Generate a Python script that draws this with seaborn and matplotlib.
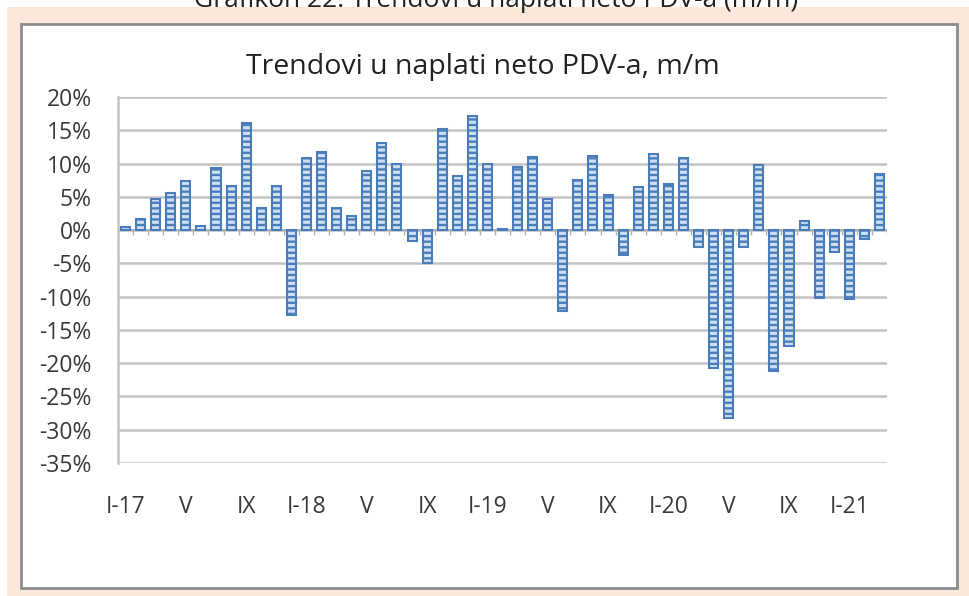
import numpy as np
import pandas as pd
import seaborn as sns
import matplotlib.pyplot as plt
from matplotlib.patches import Rectangle

# monthly net VAT collection trend, m/m change in %
years = ["17", "18", "19", "20", "21"]
roman = ["I", "II", "III", "IV", "V", "VI", "VII", "VIII", "IX", "X", "XI", "XII"]
values = [
    0.4, 1.6, 4.6, 5.5, 7.4, 0.6, 9.3, 6.6, 16.1, 3.3, 6.6, -12.8,   # 2017
    10.9, 11.7, 3.3, 2.1, 8.9, 13.1, 10.0, -1.7, -4.9, 15.2, 8.1, 17.1,  # 2018
    9.9, 0.1, 9.5, 11.0, 4.6, -12.1, 7.6, 11.2, 5.3, -3.8, 6.5, 11.5,  # 2019
    7.0, 10.8, -2.5, -20.7, -28.2, -2.5, 9.8, -21.1, -17.4, 1.3, -10.2, -3.3,  # 2020
    -10.4, -1.3, 8.5,  # 2021
]
yticks = [20, 15, 10, 5, 0, -5, -10, -15, -20, -25, -30, -35]

periods = [f"{m}-{y}" for y in years for m in roman][:len(values)]
# every fourth month gets a label, January carries the year
xlabels = [p if p.startswith("I-") else p.split("-")[0] for p in periods]

df = pd.DataFrame({"period": periods, "value": np.array(values) / 100})

sns.set_style("white")
plt.rcParams["font.family"] = ["Open Sans", "DejaVu Sans"]
plt.rcParams["hatch.linewidth"] = 1.7

W, H = 969, 596
fig = plt.figure(figsize=(W / 100, H / 100), dpi=100, facecolor="white")

# peach frame and white chart box, kept behind the axes
fig.patches.append(Rectangle((7 / W, 0), 1, (H - 7) / H, transform=fig.transFigure,
                             facecolor="#fce8da", edgecolor="none", zorder=-3))
fig.patches.append(Rectangle((21 / W, (H - 588) / H), (957 - 21) / W, (588 - 24) / H,
                             transform=fig.transFigure, facecolor="white",
                             edgecolor="#8c8c8c", linewidth=2, zorder=-2))

fig.text(496 / W, 1 - 7 / H, "Grafikon 22: Trendovi u naplati neto PDV-a (m/m)",
         ha="center", va="baseline", fontsize=19, color="#222222")

ax = fig.add_axes([118 / W, (H - 463) / H, (887 - 118) / W, (463 - 97) / H])
ax.set_zorder(2)
ax.set_facecolor("none")

sns.barplot(data=df, x="period", y="value", order=periods, color="#cfdff2",
            saturation=1, width=0.6, edgecolor="#4a7ebb", linewidth=1.5,
            hatch="---", ax=ax, zorder=3)

ax.set_xlim(-0.5, len(periods) - 0.5)
ax.set_ylim(-0.35, 0.20)
ax.set_yticks([t / 100 for t in yticks])
ax.set_yticklabels([f"{t}%" for t in yticks])
ax.yaxis.grid(True, color="#c4c4c4", linewidth=1.8, zorder=0)
ax.set_axisbelow(True)

ax.set_xticks(range(0, len(periods), 4))
ax.set_xticklabels(xlabels[::4])

for s in ["top", "right", "bottom"]:
    ax.spines[s].set_visible(False)
ax.spines["left"].set_color("#c4c4c4")
ax.spines["left"].set_linewidth(1.8)

ax.tick_params(axis="y", length=7, width=1.8, color="#c4c4c4", pad=12,
               labelsize=16.5, labelcolor="#3a3a3a")
ax.tick_params(axis="x", length=0, pad=23, labelsize=16.5, labelcolor="#3a3a3a")

# small category ticks below the zero line
ax.vlines(np.arange(-0.5, len(periods), 1), -0.008, 0, color="#b0b0b0",
          linewidth=1, zorder=2)
ax.axhline(0, color="#b0b0b0", linewidth=1.4, zorder=2)

ax.set_xlabel("")
ax.set_ylabel("")

fig.text(483 / W, 1 - 67 / H, "Trendovi u naplati neto PDV-a, m/m", ha="center",
         va="center", fontsize=20.5, color="#222222")

fig.savefig("out.png", dpi=100)
